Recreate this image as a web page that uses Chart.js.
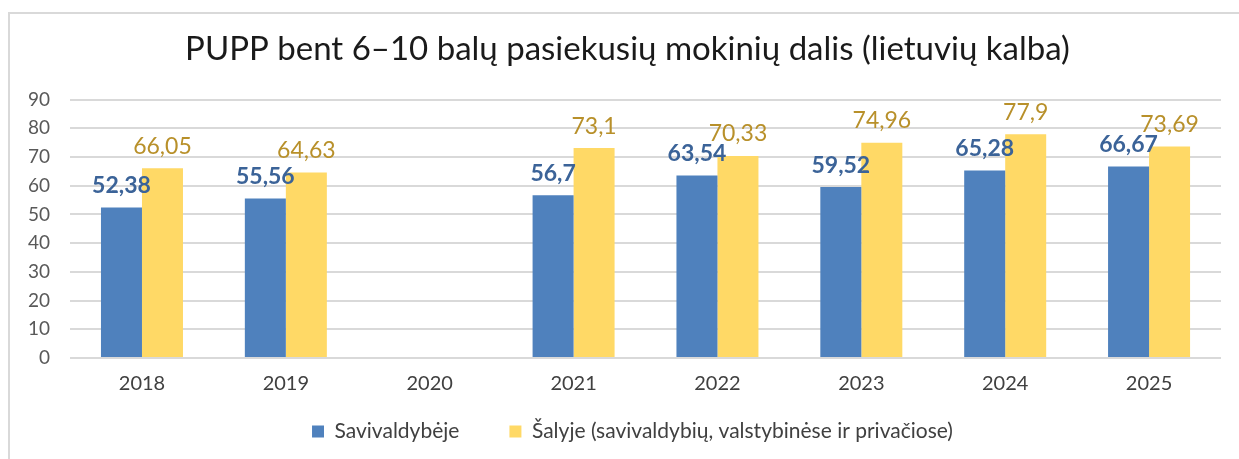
<!DOCTYPE html>
<html>
<head>
<meta charset="utf-8">
<script src="https://cdn.jsdelivr.net/npm/chart.js@4.4.1/dist/chart.umd.min.js"></script>
<style>
    html, body { margin: 0; padding: 0; background: #fff; overflow: hidden; }
    #wrap { position: relative; width: 1239px; height: 459px; }
    #ramelis { position: absolute; left: 8px; top: 12px; width: 1300px; height: 500px; border: 2px solid #d9d9d9; box-sizing: border-box; }
    canvas { position: absolute; left: 0; top: 0; }
</style>
</head>
<body>
<div id="wrap">
    <div id="ramelis"></div>
    <canvas id="grafikas" width="1239" height="459"></canvas>
</div>
<script>
// Duomenys
const metai = ['2018', '2019', '2020', '2021', '2022', '2023', '2024', '2025']
const savivaldybeje = [52.38, 55.56, null, 56.7, 63.54, 59.52, 65.28, 66.67]
const salyje = [66.05, 64.63, null, 73.1, 70.33, 74.96, 77.9, 73.69]
const yTicks = [0, 10, 20, 30, 40, 50, 60, 70, 80, 90]

const srifftas = 'Lato, "Open Sans", "Liberation Sans", sans-serif'

//? Reiksmiu uzrasai virs stulpeliu
const reiksmes = {
    id: 'reiksmes',
    afterDatasetsDraw(chart) {
        const ctx = chart.ctx
        chart.data.datasets.forEach((ds, i) => {
            const meta = chart.getDatasetMeta(i)
            meta.data.forEach((bar, j) => {
                const v = ds.data[j]
                if (v == null) return
                ctx.save()
                ctx.font = i == 0 ? 'bold 23px ' + srifftas : '23px ' + srifftas
                ctx.fillStyle = i == 0 ? '#3B6398' : '#B8902A'
                ctx.textAlign = 'center'
                ctx.textBaseline = 'middle'
                ctx.fillText(String(v).replace('.', ','), bar.x, bar.y - 22)
                ctx.restore()
            })
        })
    }
}

// Pastumia bloka piesiant (dx, dy), isdestymo nekeiciant
function pastumti(box, dx, dy) {
    const draw0 = box.draw.bind(box)
    box.draw = function () {
        const l0 = this.left, r0 = this.right, t0 = this.top
        this.left += dx
        this.right += dx
        this.top += dy
        draw0()
        this.left = l0
        this.right = r0
        this.top = t0
    }
}

//? Legenda: didelis tarpas tarp elementu, bet ne per auksti
const TRUMPINTI = 39
const legendaTarpai = {
    id: 'legendaTarpai',
    beforeInit(chart) {
        const leg = chart.legend
        if (leg) {
            const fit0 = leg.fit.bind(leg)
            leg.fit = function () { fit0(); this.height -= TRUMPINTI }
            pastumti(leg, 18, -TRUMPINTI)
        }
        if (chart.titleBlock) pastumti(chart.titleBlock, 13, 0)
    }
}

const ctx = document.getElementById('grafikas').getContext('2d')
const grafikas = new Chart(ctx, {
    type: 'bar',
    data: {
        labels: metai,
        datasets: [{
            label: 'Savivaldybėje',
            data: savivaldybeje,
            backgroundColor: '#4F81BD'
        }, {
            label: 'Šalyje (savivaldybių, valstybinėse ir privačiose)',
            data: salyje,
            backgroundColor: '#FFD966'
        }]
    },
    options: {
        responsive: false,
        animation: false,
        layout: { padding: { left: 8, right: 18, top: 0, bottom: 7 } },
        datasets: { bar: { categoryPercentage: 0.57, barPercentage: 1 } },
        scales: {
            x: {
                grid: { display: false, drawTicks: false },
                border: { display: false },
                ticks: { color: '#404040', font: { size: 20, family: srifftas }, padding: 14 }
            },
            y: {
                min: 0,
                max: 90,
                afterBuildTicks: (axis) => { axis.ticks = yTicks.map(v => ({ value: v })) },
                grid: { color: '#d9d9d9', lineWidth: 2, drawTicks: false },
                border: { display: false },
                ticks: { color: '#595959', font: { size: 19, family: srifftas }, padding: 20 }
            }
        },
        plugins: {
            title: {
                display: true,
                text: 'PUPP bent 6–10 balų pasiekusių mokinių dalis (lietuvių kalba)',
                color: '#1a1a1a',
                font: { size: 33, weight: 'normal', family: srifftas },
                padding: { top: 30, bottom: 30 }
            },
            legend: {
                position: 'bottom',
                labels: {
                    color: '#404040',
                    font: { size: 21, family: srifftas },
                    boxWidth: 12,
                    boxHeight: 12,
                    padding: 50
                }
            },
            tooltip: { enabled: false }
        }
    },
    plugins: [reiksmes, legendaTarpai]
})
</script>
</body>
</html>
